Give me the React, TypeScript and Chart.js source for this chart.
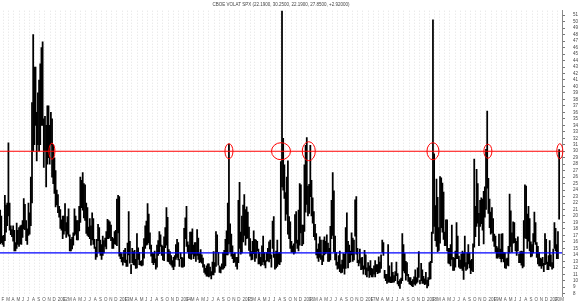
import React, { useEffect, useRef } from 'react';
import { Chart, registerables } from 'chart.js';

Chart.register(...registerables);

// ---------------- data ----------------
const TITLE = 'CBOE VOLAT SPX (22.1900, 30.2500, 22.1900, 27.8500, +2.92000)';
const FIRST_WEEK = '2011-01-03'; // Monday of the first weekly bar

// weekly lows / highs, one entry per week (Mondays), grouped by month
const low2011 = [17.0,15.9,15.5,15.7,15.9, 15.6,15.3,16.2,17.5, 18.5,20.0,17.8,17.1, 16.8,16.1,14.6,14.6, 15.0,15.6,15.3,15.7,15.6, 16.7,18.0,17.9,16.2, 15.6,17.0,17.2,18.5, 22.0,30.0,31.0,34.0,28.5, 31.0,30.0,31.0,34.0, 34.0,27.5,30.0,24.5,28.0, 29.0,28.0,31.0,26.0, 25.0,23.5,21.4,21.7];
const high2011 = [18.7,17.5,19.0,20.9,20.0, 16.9,17.0,23.2,21.7, 22.0,31.3,22.0,18.5, 17.9,18.5,17.8,15.9, 18.9,17.8,18.2,18.5,18.6, 19.3,22.7,21.8,19.3, 18.0,22.0,20.5,26.0, 37.5,48.0,43.0,43.0,36.0, 39.0,41.0,43.5,46.0, 46.9,35.0,35.4,34.0,37.0, 37.0,34.0,36.0,35.0, 31.0,29.0,27.0,24.0];

const low2012 = [20.5,19.8,18.1,17.8,16.5, 17.2,17.7,16.7,17.2, 16.9,14.6,14.6,14.9, 15.5,17.0,17.2,16.3,16.3, 17.7,19.0,21.3,20.9, 19.7,19.3,17.3,17.0, 16.8,16.5,15.5,16.3,15.6, 15.0,13.3,13.7,16.2, 14.4,13.9,13.3,13.9, 14.3,15.3,14.9,16.5,16.5, 16.7,16.2,15.0,15.0, 15.7,15.6,15.4,17.4,13.8];
const high2012 = [23.3,21.5,21.0,19.4,20.0, 20.0,21.9,19.0,19.9, 21.1,17.1,16.4,16.7, 17.4,21.1,20.0,19.3,19.3, 21.5,26.0,25.5,26.7, 25.0,24.8,22.0,21.3, 18.3,19.6,18.5,20.5,19.6, 16.4,15.2,16.4,18.7, 18.2,16.3,15.6,16.9, 16.2,16.6,17.6,19.5,19.3, 19.1,18.6,16.7,16.5, 17.6,17.8,22.6,23.2,23.0];

const low2013 = [13.4,12.9,12.4,12.9, 12.8,12.2,12.2,14.0, 12.7,11.1,12.8,12.5, 12.4,11.9,12.0,13.3,12.5, 12.4,12.3,12.4,13.5, 15.0,15.5,15.6,15.9, 14.9,13.8,12.8,12.5,12.8, 11.8,12.1,13.9,14.2, 15.3,13.9,13.2,13.1,15.1, 15.5,13.0,12.9,12.6, 12.4,12.1,11.7,12.2, 13.3,13.6,13.2,12.2,13.4];
const high2013 = [14.4,14.2,13.6,14.7, 15.0,13.2,15.8,20.7, 16.1,12.5,15.0,14.5, 14.7,13.3,17.3,15.1,14.4, 13.0,13.1,15.2,16.5, 18.5,19.2,21.9,20.3, 17.4,15.5,14.3,14.2,14.6, 13.4,15.5,16.2,17.6, 17.1,15.5,15.3,16.8,18.2, 21.3,19.8,14.8,14.5, 13.9,13.1,13.6,13.9, 15.6,16.4,15.9,13.3,14.3];

const low2014 = [12.1,12.1,12.2,16.5, 15.3,14.5,13.5,13.4, 13.3,14.1,13.4,13.8,13.0, 13.9,13.3,12.8,12.9, 12.7,12.1,11.3,11.0, 10.7,10.7,10.6,10.8,10.3, 10.9,10.9,11.3,12.2, 14.5,12.4,11.3,11.2, 11.8,11.8,12.0,12.3,14.0, 14.0,15.7,14.5,13.8, 13.4,12.8,12.9,12.2, 11.8,12.8,15.0,14.1,14.3];
const high2014 = [13.6,13.5,18.1,19.7, 21.5,16.0,15.5,17.5, 17.5,18.0,15.5,15.9,15.9, 17.9,16.6,14.2,14.8, 14.0,13.5,12.5,11.9, 12.3,12.6,12.6,12.1,11.4, 12.9,14.5,12.8,17.6, 17.1,14.4,12.3,12.1, 12.6,14.3,14.7,16.4,17.7, 22.0,31.1,18.8,17.2, 15.4,14.1,14.3,13.6, 13.6,22.4,25.2,17.5,20.0];

const low2015 = [16.0,17.0,15.5,16.5, 16.6,14.7,13.8,13.2, 13.3,14.2,13.0,13.5,14.6, 12.6,12.6,12.3,12.5, 12.9,12.4,12.0,13.0, 13.1,12.9,13.4,12.1,15.0, 13.6,11.8,12.0,12.2, 12.6,12.5,12.9,24.5,24.0, 22.7,19.3,20.3,17.2, 16.5,15.0,14.4,14.4, 14.1,14.3,15.8,15.0,14.6, 15.5,17.4,15.4,15.7];
const high2015 = [21.7,23.3,21.0,21.4, 20.6,18.3,16.5,14.5, 16.1,17.7,16.4,16.3,16.1, 14.9,14.4,13.6,15.4, 16.9,14.4,13.1,14.4, 15.0,16.0,16.3,14.0,19.2, 19.9,14.1,14.6,16.3, 14.3,14.4,28.4,53.3,32.0, 27.9,23.6,26.0,28.5, 19.9,19.1,16.1,15.4, 15.7,20.2,20.7,16.3,20.9, 25.0,24.8,18.6,18.6];

const low2016 = [17.6,20.6,21.8,20.0, 20.4,23.0,20.0,18.9,16.8, 16.3,14.0,13.5,13.0, 13.6,13.3,12.5,13.0, 14.0,14.2,14.4,13.0,13.0, 13.2,16.5,17.0,14.5, 13.2,12.4,11.8,11.9, 11.4,11.2,11.3,11.9,11.0, 11.9,14.3,12.0,12.8, 12.9,14.0,13.0,13.2,16.9, 14.1,12.8,12.3,12.7, 11.7,11.8,11.0,11.8];
const high2016 = [27.9,30.9,32.1,24.6, 24.9,30.9,25.5,22.8,20.7, 18.7,17.3,14.9,15.7, 16.8,16.3,13.9,16.3, 16.8,16.1,17.1,15.8,15.0, 18.4,22.4,26.7,23.9, 16.9,14.4,12.9,13.9, 14.6,12.5,13.2,14.2,14.1, 18.2,20.5,16.1,15.5, 14.6,17.4,16.6,16.3,22.5, 23.0,15.0,13.2,14.9, 13.5,13.6,12.3,14.7];

const low2017 = [10.9,10.6,11.5,10.5,10.9, 10.6,10.6,11.0,10.6, 11.4,11.1,11.2,11.3, 11.9,14.4,13.9,10.4, 10.0,9.6,9.8,9.8,9.7, 9.7,9.8,9.8,10.0, 10.8,9.5,9.2,8.8,9.6, 10.0,11.5,11.2,10.1, 10.8,9.9,9.5,9.4, 9.2,9.1,9.5,9.3,9.6, 9.8,10.5,9.5,10.0, 9.6,9.6,9.4,9.5];
const high2017 = [14.0,12.0,12.8,12.3,13.1, 11.9,11.8,12.3,13.1, 12.5,12.5,13.7,12.9, 14.0,16.3,15.9,11.6, 11.0,11.0,15.6,12.3,10.6, 12.8,11.3,10.8,11.4, 12.9,11.1,9.9,10.2,10.4, 17.3,15.6,14.2,13.0, 12.8,11.0,10.5,10.5, 9.9,10.2,10.6,11.7,10.5, 12.0,14.5,10.1,12.7, 11.7,10.7,10.3,11.3];

const low2018 = [8.9,9.2,10.2,10.3,12.8, 17.3,18.4,16.2,15.3, 14.5,14.7,15.8,18.2, 17.5,16.4,15.4,15.4,14.6, 12.7,12.6,12.3,13.3, 11.6,11.6,12.1,13.4, 13.4,12.1,11.9,11.9,11.6, 10.2,12.2,11.6,11.8, 12.6,12.0,11.1,11.6, 11.4,15.2,16.8,18.4,18.9, 15.4,18.4,18.8,17.8, 15.7,19.8,21.0,24.3,20.4];
const high2018 = [10.1,10.5,12.8,13.0,17.5, 50.3,29.6,21.6,25.7, 22.9,18.2,26.1,25.9, 25.1,23.7,17.5,19.4,19.4, 15.0,15.0,15.6,18.6, 13.6,13.5,14.6,19.0, 16.9,13.8,13.2,14.1,14.6, 14.3,16.9,12.8,14.3, 15.6,14.3,13.1,13.3, 15.7,28.8,21.5,27.2,25.0, 20.4,22.4,22.8,22.6, 23.8,24.5,30.3,36.2,25.8];

const low2019 = [18.2,17.2,17.4,16.1, 15.3,14.5,13.5,13.5, 13.7,13.4,12.9,13.4, 12.9,12.0,11.9,12.4,12.3, 14.3,15.3,14.4,15.8, 15.9,14.6,13.9,14.6, 12.8,12.8,12.4,12.0,12.2, 16.6,16.5,15.0,16.1, 14.6,13.7,13.8,14.3,16.0, 15.6,13.6,12.6,12.3, 12.3,11.9,12.3,11.4, 12.5,12.6,11.7,11.7,12.3];
const high2019 = [22.6,20.6,21.3,19.6, 17.2,16.9,15.3,15.1, 17.2,14.9,17.2,17.3, 14.4,14.3,13.4,13.5,15.3, 23.4,20.8,17.4,19.1, 19.0,16.5,16.1,16.8, 14.1,14.5,14.6,14.5,19.3, 24.8,24.6,20.3,21.5, 19.6,16.0,15.6,17.3,20.6, 19.0,15.9,15.3,14.4, 13.5,13.4,13.6,12.7, 17.3,16.4,12.9,13.9,16.2];

const low2020 = [12.2,11.8,12.0,15.0, 14.6,13.4,13.4,19.5];
const high2020 = [14.0,12.8,14.9,19.0, 18.1,15.6,17.6,30.25];

const weeklyLow = [...low2011, ...low2012, ...low2013, ...low2014, ...low2015, ...low2016, ...low2017, ...low2018, ...low2019, ...low2020];
const weeklyHigh = [...high2011, ...high2012, ...high2013, ...high2014, ...high2015, ...high2016, ...high2017, ...high2018, ...high2019, ...high2020];

const RED_LEVEL = 30;
const BLUE_LEVEL = 14.3;
const circledDates = ['2011-11-27', '2014-10-13', '2015-08-18', '2016-01-30', '2018-02-05', '2018-12-28', '2020-02-28'];

const MONTH_LABELS = ['', 'F', 'M', 'A', 'M', 'J', 'J', 'A', 'S', 'O', 'N', 'D'];
const Y_TICKS = [8,9,10,11,12,13,14,15,16,17,18,19,20,21,22,23,24,25,26,27,28,29,30,31,32,33,34,35,36,37,38,39,40,41,42,43,44,45,46,47,48,49,50,51];

// ---------------- styling / layout ----------------
const FONT = '"Liberation Sans", Arial, sans-serif';
const RED = 'rgb(255,0,0)';
const BLUE = 'rgb(0,0,255)';
const CIRCLE_RADII = [[3, 8], [4, 7.5], [9.5, 8.5], [6.5, 9.5], [6, 8.5], [4, 7], [3, 7.5]];
const DAY_MS = 86400000;
const ORIGIN = Date.parse('2011-01-01T00:00:00Z');
const dayOf = (iso: string) => (Date.parse(iso + 'T00:00:00Z') - ORIGIN) / DAY_MS;
const X_MIN = dayOf('2011-01-23');
const X_MAX = dayOf('2020-03-12');

export default function App() {
  const ref = useRef<HTMLCanvasElement | null>(null);

  useEffect(() => {
    const canvas = ref.current;
    if (!canvas) return;

    const start = dayOf(FIRST_WEEK);
    const bars = weeklyLow.map((lo, i) => ({ x: start + 7 * i, y: [lo, weeklyHigh[i]] }));

    const monthTicks: { value: number; label: string }[] = [];
    for (let yr = 2011; yr <= 2020; yr++) {
      for (let m = 0; m < 12; m++) {
        const v = (Date.UTC(yr, m, 1) - ORIGIN) / DAY_MS;
        if (v < X_MIN || v > X_MAX) continue;
        monthTicks.push({ value: v, label: m === 0 ? String(yr) : MONTH_LABELS[m] });
      }
    }
    const labelMap = new Map(monthTicks.map((t) => [t.value, t.label]));

    const levelLine = (lvl: number, color: string) => ({
      type: 'line',
      data: [
        { x: X_MIN, y: lvl },
        { x: X_MAX, y: lvl },
      ],
      borderColor: color,
      backgroundColor: color,
      borderWidth: 1.2,
      pointRadius: 0,
      fill: false,
      order: 0,
    });

    const overlay = {
      id: 'overlay',
      afterDatasetsDraw(chart: any) {
        const { ctx, scales } = chart;
        const xs = scales.x;
        const ys = scales.y;
        ctx.save();
        ctx.setLineDash([]);
        ctx.strokeStyle = RED;
        ctx.lineWidth = 1;
        circledDates.forEach((d, i) => {
          const cx = xs.getPixelForValue(dayOf(d));
          const cy = ys.getPixelForValue(RED_LEVEL);
          const [rx, ry] = CIRCLE_RADII[i];
          ctx.beginPath();
          ctx.ellipse(cx, cy, rx, ry, 0, 0, Math.PI * 2);
          ctx.stroke();
        });
        ctx.restore();
      },
      afterDraw(chart: any) {
        const { ctx, chartArea } = chart;
        ctx.save();
        ctx.font = `4.5px ${FONT}`;
        ctx.fillStyle = '#444';
        ctx.textAlign = 'center';
        ctx.textBaseline = 'middle';
        ctx.fillText(TITLE, (chartArea.left + chartArea.right) / 2, 5);
        ctx.restore();
      },
    };

    const chart = new Chart(canvas, {
      type: 'bar',
      data: {
        datasets: [
          levelLine(RED_LEVEL, RED) as any,
          levelLine(BLUE_LEVEL, BLUE) as any,
          {
            type: 'bar',
            data: bars as any,
            backgroundColor: '#000000',
            borderWidth: 0,
            barThickness: 1.1,
            order: 1,
          } as any,
        ],
      },
      options: {
        animation: false,
        responsive: false,
        maintainAspectRatio: false,
        layout: { padding: 0 },
        plugins: { legend: { display: false }, tooltip: { enabled: false }, title: { display: false } },
        scales: {
          x: {
            type: 'linear',
            min: X_MIN,
            max: X_MAX,
            offset: false,
            afterBuildTicks: (s: any) => {
              s.ticks = monthTicks.map((t) => ({ value: t.value }));
            },
            afterFit: (s: any) => {
              s.height = 9;
            },
            ticks: {
              autoSkip: false,
              maxRotation: 0,
              minRotation: 0,
              align: 'start',
              padding: 1,
              color: '#555',
              font: { size: 4.5, family: FONT },
              callback: (v: any) => labelMap.get(v) ?? '',
            },
            grid: { color: '#e2e2e2', lineWidth: 1, drawTicks: false, tickLength: 0 },
            border: { display: false, dash: [1, 2] },
          } as any,
          y: {
            type: 'linear',
            position: 'right',
            min: 7.6,
            max: 51.7,
            afterBuildTicks: (s: any) => {
              s.ticks = Y_TICKS.map((v) => ({ value: v }));
            },
            afterFit: (s: any) => {
              s.width = 18;
            },
            ticks: {
              autoSkip: false,
              padding: 8,
              color: '#444',
              font: { size: 4.5, family: FONT },
            },
            grid: { drawOnChartArea: false, drawTicks: true, tickLength: 3, color: '#777' },
            border: { display: true, color: '#888' },
          } as any,
        },
      },
      plugins: [overlay],
    });

    return () => chart.destroy();
  }, []);

  return (
    <div style={{ position: 'fixed', left: 0, top: 0, width: 580, height: 307, background: '#fff' }}>
      <canvas ref={ref} width={580} height={307} style={{ display: 'block', width: 580, height: 307 }} />
    </div>
  );
}
